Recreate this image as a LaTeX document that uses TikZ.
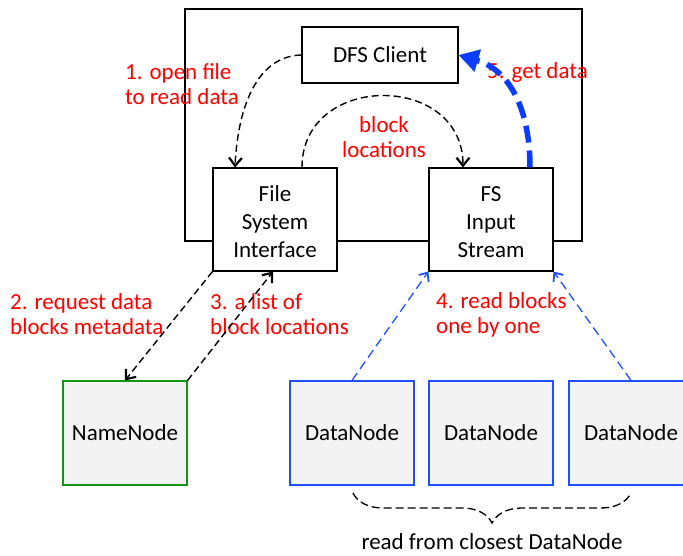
\documentclass[tikz,border=0pt]{standalone}
\usepackage{fontspec}
\setmainfont{Carlito}
\usetikzlibrary{arrows.meta,decorations.pathreplacing}
\definecolor{lblred}{RGB}{255,0,0}
\definecolor{nodegreen}{RGB}{20,150,20}
\definecolor{nodeblue}{RGB}{30,80,255}
\definecolor{thickblue}{RGB}{10,60,255}
\definecolor{boxfill}{RGB}{243,243,243}
\tikzset{
  box/.style={draw=black,line width=1.1pt,fill=white,inner sep=0pt,align=center},
  namebox/.style={draw=nodegreen,line width=1.1pt,fill=boxfill,inner sep=0pt,
    minimum width=124pt,minimum height=104pt},
  databox/.style={draw=nodeblue,line width=1.1pt,fill=boxfill,inner sep=0pt,
    minimum width=124pt,minimum height=104pt},
  lbl/.style={text=lblred,align=left,inner sep=0pt,font=\fontsize{23}{25}\selectfont},
  blackdash/.style={draw=black,line width=1.4pt,dash pattern=on 7pt off 4pt,
    -{Straight Barb[length=8pt,width=13pt,line width=2.2pt]}},
  bluedash/.style={draw=nodeblue,line width=1.3pt,dash pattern=on 9pt off 5pt,
    -{Straight Barb[length=7pt,width=12pt,line width=1.8pt]}},
}
\begin{document}
\begin{tikzpicture}[x=1pt,y=-1pt,font=\fontsize{23}{28}\selectfont]
\clip (0,0) rectangle (683,556);
\fill[white] (0,0) rectangle (683,556);

% client machine frame
\draw[line width=1.1pt] (185,9) rectangle (582,241);

% client-side components
\node[box,minimum width=156pt,minimum height=56pt] (client) at (380,55) {DFS Client};
\node[box,minimum width=124pt,minimum height=103pt] (fsi) at (275,219.5) {\strut File\\System\\Interface};
\node[box,minimum width=124pt,minimum height=103pt] (fsis) at (491,219.5) {\strut FS\\Input\\Stream};

% cluster nodes
\node[namebox] (nn) at (125,433) {NameNode};
\node[databox] (dn1) at (352,433) {DataNode};
\node[databox] (dn2) at (491,433) {DataNode};
\node[databox] (dn3) at (631,433) {DataNode};

% labels
\node[lbl,anchor=west] (l1) at (125,84.5) {1. open file\\to read data};
\node[lbl,align=center] (lb) at (384,137) {block\\locations};
\node[lbl,anchor=west] (l5) at (487,72) {5. get data};
\node[lbl,anchor=west] (l2) at (10,314.5) {2. request data\\blocks metadata};
\node[lbl,anchor=west] (l3) at (210,314.5) {3. a list of\\block locations};
\node[lbl,anchor=west] (l4) at (436,314.5) {4. read blocks\\one by one};
\node[inner sep=0pt] (note) at (492,542) {read from closest DataNode};

% connectors
\draw[blackdash] (client.west) .. controls (258,56) and (238,105) .. ([xshift=-40pt]fsi.north);
\draw[blackdash] ([xshift=27pt]fsi.north) .. controls (302,72) and (463,72) .. ([xshift=-28pt]fsis.north);
\draw[draw=thickblue,line width=5.5pt,dash pattern=on 17pt off 8pt,
      -{Triangle[length=20pt,width=22pt]}]
  ([xshift=39pt]fsis.north) .. controls (530,110) and (510,70) .. (client.east);
\draw[blackdash] (fsi.south west) -- (nn.north);
\draw[blackdash] (nn.north east) -- ([xshift=-2pt]fsi.south);
\draw[bluedash] (dn1.north) -- (fsis.south west);
\draw[bluedash] (dn3.north) -- (fsis.south east);

% brace under the data nodes
\coordinate (bl) at (353,493);
\coordinate (br) at (631,493);
\draw[line width=1.3pt,dash pattern=on 8pt off 4pt,
      decorate,decoration={brace,mirror,amplitude=30pt,aspect=0.5}] (bl) -- (br);
\end{tikzpicture}
\end{document}
